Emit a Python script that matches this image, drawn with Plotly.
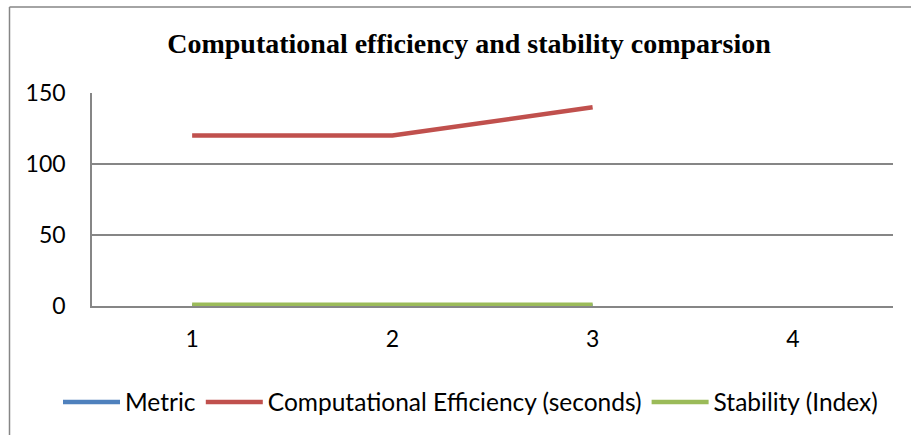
import plotly.graph_objects as go

categories = [1, 2, 3]
metric = [0, 0, 0]
comp_eff = [120, 120, 140]
stability = [0.8, 0.85, 0.9]
x_ticks = [1, 2, 3, 4]
y_ticks = [0, 50, 100, 150]

W, H = 911, 435
L, R, T, B = 92, 18, 93, 129
pw, ph = W - L - R, H - T - B

def px_x(p):
    return (p - L) / pw

def px_y(p):
    return (H - B - p) / ph

fig = go.Figure()
fig.add_trace(go.Scatter(x=categories, y=metric, mode="lines", name="Metric",
                         line=dict(color="#4F81BD", width=4.5)))
fig.add_trace(go.Scatter(x=categories, y=comp_eff, mode="lines",
                         name="Computational Efficiency (seconds)",
                         line=dict(color="#C0504D", width=4.5)))
fig.add_trace(go.Scatter(x=categories, y=stability, mode="lines", name="Stability (Index)",
                         line=dict(color="#9BBB59", width=4.5)))

grid = "#868686"
fig.update_layout(
    width=W, height=H,
    margin=dict(l=L, r=R, t=T, b=B, pad=0, autoexpand=False),
    paper_bgcolor="white", plot_bgcolor="white",
    font=dict(family="Lato", size=23, color="black"),
    title=dict(text="<b>Computational efficiency and stability comparsion</b>",
               font=dict(family="Liberation Serif", size=28, color="black"),
               xref="paper", x=px_x(469), xanchor="center",
               yref="container", y=1 - 43 / H, yanchor="middle"),
    xaxis=dict(range=[0.5, 4.5], tickvals=x_ticks, ticktext=[str(v) for v in x_ticks],
               showgrid=False, zeroline=False, showline=True, linecolor=grid, linewidth=1.5,
               ticks="", ticklabelstandoff=12, fixedrange=True),
    yaxis=dict(range=[0, 150], tickvals=y_ticks, showgrid=True, gridcolor=grid,
               gridwidth=1.5, zeroline=False, showline=True, linecolor=grid, linewidth=1.5,
               ticks="", ticklabelstandoff=20, fixedrange=True),
    showlegend=True,
    legend=dict(orientation="h", x=px_x(58), xanchor="left", y=px_y(402), yanchor="middle",
                font=dict(family="Lato", size=24.5), itemwidth=57, tracegroupgap=0,
                bgcolor="rgba(0,0,0,0)"),
    shapes=[
        dict(type="line", xref="paper", yref="paper", x0=px_x(9.5), x1=px_x(915),
             y0=px_y(7), y1=px_y(7), line=dict(color=grid, width=1.5)),
        dict(type="line", xref="paper", yref="paper", x0=px_x(9.5), x1=px_x(9.5),
             y0=px_y(7), y1=px_y(440), line=dict(color=grid, width=1.5)),
    ],
)

fig.write_html("out.html", config={"displayModeBar": False},
               post_script="document.body.style.margin='0';document.body.style.padding='0';")
